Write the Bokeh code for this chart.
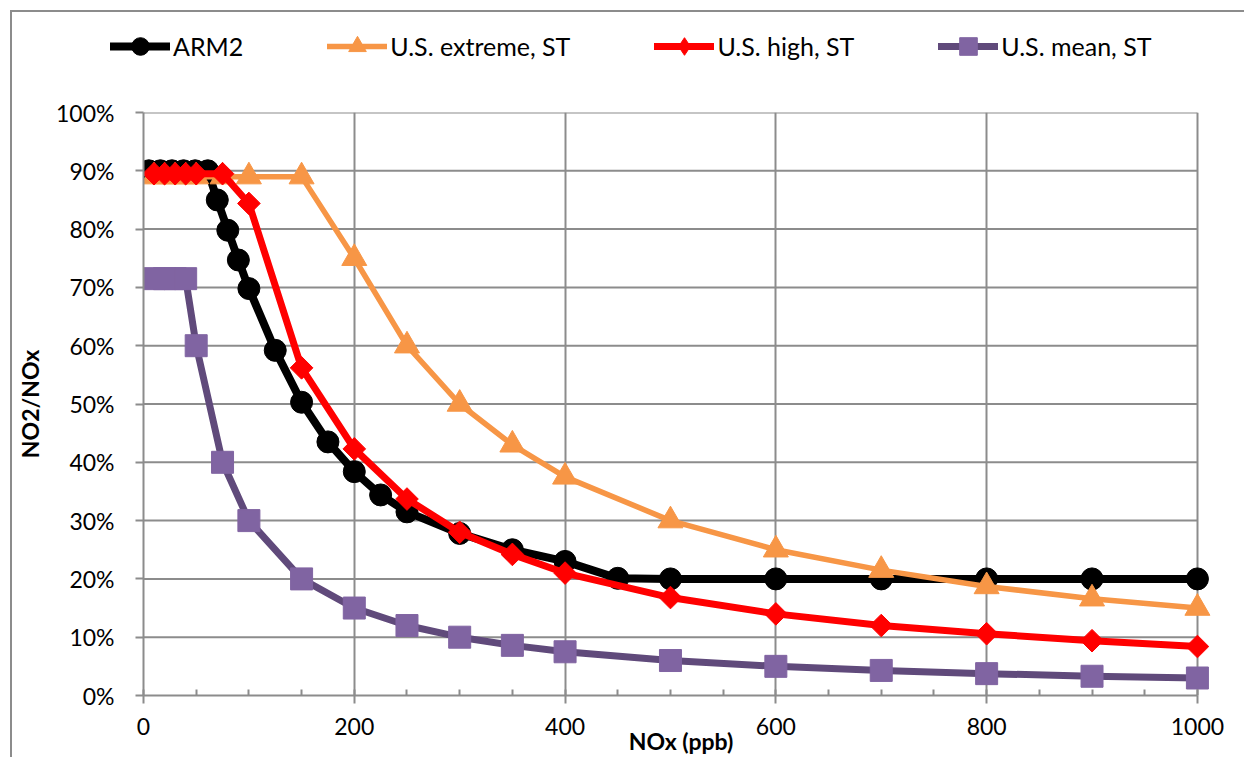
import numpy as np
from bokeh.plotting import figure
from bokeh.layouts import column
from bokeh.models import (Legend, LegendItem, SingleIntervalTicker, PrintfTickFormatter, Range1d)
from bokeh.embed import file_html
from bokeh.resources import INLINE

# ---- data (NO2/NOx in percent vs NOx in ppb) ----
arm2_x = [5, 16, 27, 38, 49, 61, 70, 80, 90, 100, 125, 150, 175, 200, 225, 250, 300, 350, 400, 450, 500, 600, 700, 800, 900, 1000]
arm2_y = [90, 90, 90, 90, 90, 90, 85, 79.8, 74.7, 69.8, 59.2, 50.3, 43.5, 38.4, 34.4, 31.5, 27.8, 25, 23, 20.1, 20, 20, 20, 20, 20, 20]

ext_x = [10, 20, 30, 40, 50, 75, 100, 150, 200, 250, 300, 350, 400, 500, 600, 700, 800, 900, 1000]
ext_y = [89, 89, 89, 89, 89, 89, 89, 89, 75, 60, 50, 43, 37.5, 30, 25, 21.5, 18.7, 16.6, 15]

high_x = [10, 20, 30, 40, 50, 75, 100, 150, 200, 250, 300, 350, 400, 500, 600, 700, 800, 900, 1000]
high_y = [89.5, 89.5, 89.5, 89.5, 89.5, 89.5, 84.4, 56.2, 42.3, 33.7, 28, 24.2, 21, 16.8, 14, 12, 10.6, 9.4, 8.4]

mean_x = [10, 20, 30, 40, 50, 75, 100, 150, 200, 250, 300, 350, 400, 500, 600, 700, 800, 900, 1000]
mean_y = [71.5, 71.5, 71.5, 71.5, 60, 40, 30, 20, 15, 12, 10, 8.6, 7.5, 6, 5, 4.3, 3.75, 3.3, 3]

labels = ["ARM2", "U.S. extreme, ST", "U.S. high, ST", "U.S. mean, ST"]
y_ticks = [10, 20, 30, 40, 50, 60, 70, 80, 90, 100]
x_max = 1000

FONT = "Lato"
GRID = "#8c8c8c"
W = 1232

line_styles = [
    dict(line_color="black", line_width=8),
    dict(line_color="#F79646", line_width=5.5),
    dict(line_color="#FF0000", line_width=7),
    dict(line_color="#604A7B", line_width=7),
]
marker_styles = [
    dict(marker="circle", size=22, fill_color="black", line_color="black"),
    dict(marker="triangle", size=25, fill_color="#F79646", line_color="#F79646"),
    dict(marker="square", angle=np.pi / 4, size=16, fill_color="#FF0000", line_color="#FF0000"),
    dict(marker="square", size=22, fill_color="#8064A2", line_color="#8064A2"),
]

# ---------------- main plot ----------------
p = figure(width=W, height=665, title=None,
           x_range=Range1d(0, 1020), y_range=Range1d(0, 100),
           output_backend="svg", toolbar_location=None,
           min_border_left=131, min_border_right=26,
           min_border_top=20, min_border_bottom=62)
p.frame_align = False
p.outline_line_color = None
p.background_fill_color = "white"
p.border_fill_color = "white"

# horizontal grid lines (only to x = 1000)
p.segment(x0=[0] * len(y_ticks), x1=[x_max] * len(y_ticks), y0=y_ticks, y1=y_ticks,
          line_color=GRID, line_width=2)
p.ygrid.grid_line_color = None

xticker = SingleIntervalTicker(interval=200, num_minor_ticks=4)
p.xaxis.ticker = xticker
p.xgrid.ticker = xticker
p.xgrid.grid_line_color = GRID
p.xgrid.grid_line_width = 2

p.yaxis.ticker = SingleIntervalTicker(interval=10, num_minor_ticks=0)
p.yaxis.formatter = PrintfTickFormatter(format="%d%%")

for ax in (p.xaxis, p.yaxis):
    ax.axis_line_color = GRID
    ax.axis_line_width = 2
    ax.major_tick_line_color = GRID
    ax.major_tick_line_width = 2
    ax.major_tick_out = 8
    ax.major_tick_in = 0
    ax.major_label_text_font = FONT
    ax.major_label_text_font_size = "23px"
    ax.major_label_text_color = "black"
    ax.axis_label_text_font = FONT
    ax.axis_label_text_font_size = "23px"
    ax.axis_label_text_font_style = "bold"
    ax.axis_label_text_color = "black"

p.xaxis.bounds = (0, x_max)
p.xaxis.minor_tick_line_color = GRID
p.xaxis.minor_tick_line_width = 2
p.xaxis.minor_tick_in = 6
p.xaxis.minor_tick_out = 0
p.yaxis.minor_tick_line_color = None

p.xaxis.axis_label = "NOx (ppb)"
p.yaxis.axis_label = "NO2/NOx"
p.xaxis.major_label_standoff = 14
p.xaxis.axis_label_standoff = -11
p.yaxis.major_label_standoff = 21
p.yaxis.axis_label_standoff = 9

series = [(arm2_x, arm2_y), (ext_x, ext_y), (high_x, high_y), (mean_x, mean_y)]
for (xs, ys), ls, ms in zip(series, line_styles, marker_styles):
    p.line(xs, ys, line_join="round", line_cap="round", **ls)
    p.scatter(xs, ys, **ms)

# ---------------- legend strip ----------------
lf = figure(width=W, height=80, title=None, x_range=Range1d(0, W), y_range=Range1d(0, 80),
            output_backend="svg", toolbar_location=None,
            x_axis_location=None, y_axis_location=None,
            min_border=0, min_border_left=0, min_border_right=0,
            min_border_top=0, min_border_bottom=0)
lf.frame_align = False
lf.outline_line_color = None
lf.grid.visible = False
lf.background_fill_color = "white"
lf.border_fill_color = "white"

legend_markers = [
    dict(marker="circle", fill_color="black", line_color="black"),
    dict(marker="triangle", fill_color="#F79646", line_color="#F79646"),
    dict(marker="diamond", fill_color="#FF0000", line_color="#FF0000"),
    dict(marker="square", fill_color="#8064A2", line_color="#8064A2"),
]
items = []
for lab, ls, ms in zip(labels, line_styles, legend_markers):
    # off-screen proxies: only their style is used, by the legend
    rl = lf.line([-200, -100], [-200, -200], line_join="round", line_cap="round", **ls)
    rm = lf.scatter([-200], [-200], size=10, **ms)
    items.append(LegendItem(label=lab, renderers=[rl, rm]))

legend = Legend(items=items, orientation="horizontal", location=(98, 24), spacing=84,
                glyph_width=60, glyph_height=44, label_height=44, label_standoff=3,
                padding=0, margin=0, border_line_color=None, background_fill_alpha=0,
                label_text_font=FONT, label_text_font_size="25px", label_text_color="black")
lf.add_layout(legend)

layout = column(lf, p, spacing=0,
                styles={"margin-left": "10px", "margin-top": "10px",
                        "border-left": "2px solid #8c8c8c", "border-top": "2px solid #8c8c8c"})

open("out.html", "w").write(file_html(layout, INLINE))
